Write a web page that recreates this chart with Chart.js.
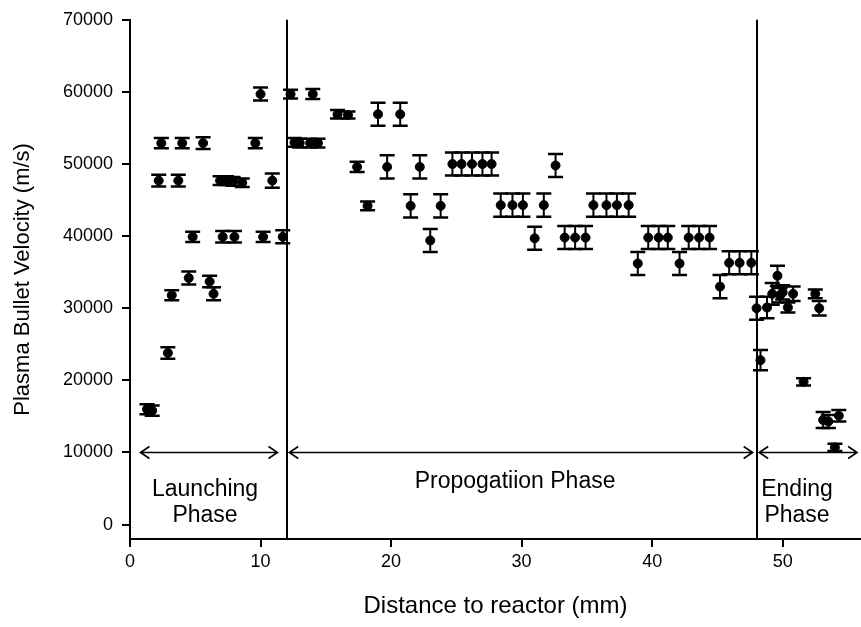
<!DOCTYPE html>
<html>
<head>
<meta charset="utf-8">
<script src="https://cdn.jsdelivr.net/npm/chart.js@4/dist/chart.umd.min.js"></script>
<style>
html,body{margin:0;padding:0;background:#fff;}
#wrap{width:861px;height:627px;position:relative;}
</style>
</head>
<body>
<div id="wrap"><canvas id="c" width="861" height="627"></canvas></div>
<script>
// ---- Data ----
const distance = [
  1.3,1.7,2.2,2.4,2.9,3.2,3.7,4.0,4.5,4.8,5.6,6.1,6.4,6.9,7.4,7.9,8.6,7.1,8.0,9.6,10.0,10.2,10.9,11.7,
  12.3,12.6,13.0,13.8,14.4,14.0,15.9,16.7,17.4,18.2,19.0,19.7,20.7,21.5,22.2,23.0,23.8,
  24.7,25.4,26.2,27.0,27.7,28.4,29.3,30.1,31.0,31.7,32.6,33.3,34.1,34.9,35.5,36.5,37.3,38.2,
  38.9,39.7,40.5,41.2,42.1,42.8,43.6,44.4,45.2,45.9,46.7,47.6,
  48.0,48.3,48.8,49.2,49.6,49.8,50.0,50.4,50.8,51.6,52.5,52.8,53.1,53.5,54.0,54.3
];
const velocity = [
  16000,15800,47700,52900,23800,31800,47700,52900,34200,39900,52900,33700,32000,47700,47700,47600,47400,39900,39900,52900,59700,39900,47700,39900,
  59700,53000,52900,52900,52900,59700,56900,56800,49600,44200,56900,49600,56900,44200,49600,39400,44200,
  50000,50000,50000,50000,50000,44300,44300,44300,39700,44300,49800,39800,39800,39800,44300,44300,44300,44300,
  36200,39800,39800,39800,36200,39800,39800,39800,33000,36300,36300,36300,
  30000,22800,30100,32000,34500,31800,32200,30100,32000,19800,32000,30000,14500,14300,10700,15100
];
const velocityErr = [
  700,700,800,700,800,700,800,700,900,700,800,800,900,600,600,600,600,800,800,700,900,700,1000,900,
  600,600,600,600,600,700,600,500,700,600,1600,1600,1600,1600,1600,1600,1600,
  1600,1600,1600,1600,1600,1600,1600,1600,1600,1600,1600,1600,1600,1600,1600,1600,1600,1600,
  1600,1600,1600,1600,1600,1600,1600,1600,1600,1600,1600,1600,
  1600,1400,1500,1500,1400,1000,1000,700,1000,500,600,1000,1100,900,500,800
];
const xTicks = [0,10,20,30,40,50];
const yTicks = [0,10000,20000,30000,40000,50000,60000,70000];
const phaseBoundaries = [12,48];
const phaseArrowFrom = [0.8,12.2,48.2];
const phaseArrowTo = [11.3,47.7,55.7];
const phaseArrowY = 10000;
const phaseLabelLines = [["Launching","Phase"],["Propogatiion Phase"],["Ending","Phase"]];
const phaseLabelX = [5.75,29.5,51.1];
const phaseLabelY = [4830,5940,4830];

const FONT = "'Liberation Sans', Arial, sans-serif";

const errorBars = {
  id:'errorBars',
  beforeDatasetsDraw(chart){
    const {ctx, scales:{x,y}} = chart;
    ctx.save();
    ctx.strokeStyle = '#000';
    distance.forEach((d,i)=>{
      const px = x.getPixelForValue(d);
      const top = y.getPixelForValue(velocity[i] + velocityErr[i]);
      const bot = y.getPixelForValue(velocity[i] - velocityErr[i]);
      ctx.lineWidth = 2;
      ctx.beginPath(); ctx.moveTo(px,top); ctx.lineTo(px,bot); ctx.stroke();
      ctx.lineWidth = 2.5;
      ctx.beginPath();
      ctx.moveTo(px-7.5,top); ctx.lineTo(px+7.5,top);
      ctx.moveTo(px-7.5,bot); ctx.lineTo(px+7.5,bot);
      ctx.stroke();
    });
    ctx.restore();
  }
};

const phases = {
  id:'phases',
  afterDraw(chart){
    const {ctx, chartArea:a, scales:{x,y}} = chart;
    ctx.save();
    ctx.strokeStyle = '#000';
    ctx.fillStyle = '#000';
    ctx.lineWidth = 2;
    phaseBoundaries.forEach(b=>{
      const px = Math.round(x.getPixelForValue(b));
      ctx.beginPath(); ctx.moveTo(px,a.top); ctx.lineTo(px,a.bottom); ctx.stroke();
    });
    const ay = y.getPixelForValue(phaseArrowY);
    ctx.lineWidth = 1.6;
    phaseArrowFrom.forEach((f,i)=>{
      const x1 = x.getPixelForValue(f), x2 = x.getPixelForValue(phaseArrowTo[i]);
      ctx.beginPath(); ctx.moveTo(x1,ay); ctx.lineTo(x2,ay);
      ctx.moveTo(x1+9,ay-6); ctx.lineTo(x1,ay); ctx.lineTo(x1+9,ay+6);
      ctx.moveTo(x2-9,ay-6); ctx.lineTo(x2,ay); ctx.lineTo(x2-9,ay+6);
      ctx.stroke();
    });
    ctx.font = "23px " + FONT;
    ctx.textAlign = 'center';
    ctx.textBaseline = 'middle';
    phaseLabelLines.forEach((lines,i)=>{
      const cx = x.getPixelForValue(phaseLabelX[i]);
      const cy = y.getPixelForValue(phaseLabelY[i]);
      lines.forEach((t,k)=> ctx.fillText(t, cx, cy + k*26));
    });
    ctx.restore();
  }
};

new Chart(document.getElementById('c'), {
  type:'scatter',
  data:{
    datasets:[{
      data: distance.map((d,i)=>({x:d, y:velocity[i]})),
      pointRadius:4.5,
      pointHoverRadius:4.5,
      pointBackgroundColor:'#000',
      pointBorderColor:'#000',
      pointBorderWidth:1
    }]
  },
  options:{
    responsive:false,
    animation:false,
    devicePixelRatio:1,
    layout:{autoPadding:false, padding:{top:18,right:0,left:0,bottom:0}},
    plugins:{legend:{display:false}, tooltip:{enabled:false}},
    scales:{
      x:{
        type:'linear', min:0, max:56,
        afterBuildTicks(s){ s.ticks = xTicks.map(v=>({value:v})); },
        afterFit(s){ s.height = 88; s.paddingRight = 0; s.paddingLeft = 0; },
        ticks:{color:'#000', font:{family:FONT,size:18}, padding:4, maxRotation:0, autoSkip:false, callback:v=>String(v)},
        grid:{display:true, drawOnChartArea:false, drawTicks:true, tickLength:8, color:'#000', lineWidth:2},
        border:{display:true, color:'#000', width:2},
        title:{display:true, text:'Distance to reactor (mm)', color:'#000', font:{family:FONT,size:24}, padding:{top:4,bottom:6}}
      },
      y:{
        type:'linear', min:-2000, max:70000,
        afterBuildTicks(s){ s.ticks = yTicks.map(v=>({value:v})); },
        afterFit(s){ s.width = 130; },
        ticks:{color:'#000', font:{family:FONT,size:18}, padding:9, autoSkip:false, callback:v=>String(v)},
        grid:{display:true, drawOnChartArea:false, drawTicks:true, tickLength:8, color:'#000', lineWidth:2},
        border:{display:true, color:'#000', width:2},
        title:{display:true, text:'Plasma Bullet Velocity (m/s)', color:'#000', font:{family:FONT,size:22}, padding:{top:10,bottom:4}}
      }
    }
  },
  plugins:[errorBars, phases]
});
</script>
</body>
</html>
